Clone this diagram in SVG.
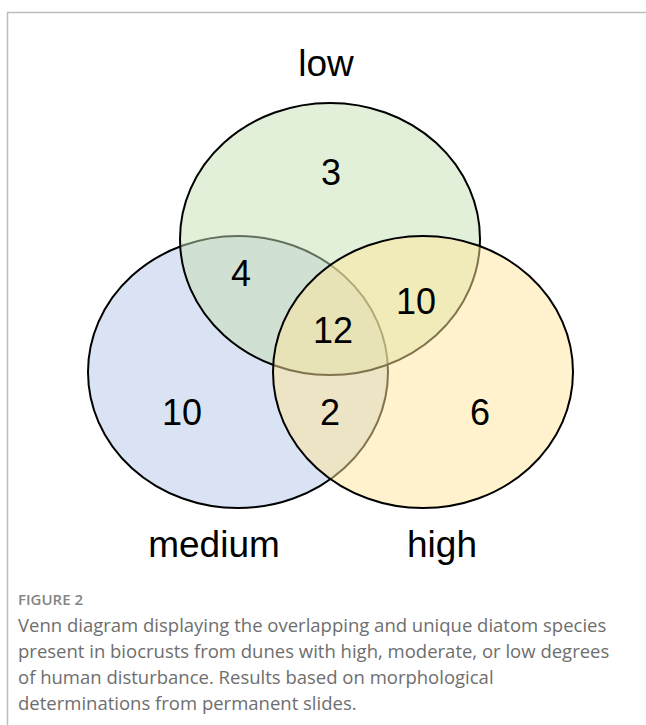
<svg xmlns="http://www.w3.org/2000/svg" width="646" height="725" viewBox="0 0 646 725">
<style>
.set{stroke:#000;stroke-width:2}
.lbl{font-family:"Liberation Sans",Arial,sans-serif;font-size:37px;fill:#000;text-anchor:middle}
.num{font-family:"Liberation Sans",Arial,sans-serif;font-size:36px;fill:#000;text-anchor:middle}
.cap{font-family:"Open Sans","Noto Sans",sans-serif;font-size:18.5px;fill:#6e6e6e}
.fig{font-family:"Open Sans","Noto Sans",sans-serif;font-size:15px;font-weight:600;fill:#858585}
</style>
<rect width="646" height="725" fill="#fff"/>
<path d="M7.5 725 V12.5 H646" fill="none" stroke="#bdbdbd" stroke-width="1.5"/>
<g id="medium">
<ellipse class="set" cx="238" cy="372" rx="150" ry="136" fill="#dae3f3"/>
</g>
<g id="low">
<ellipse class="set" cx="330" cy="239" rx="150" ry="136" fill="#c5dfb3" fill-opacity="0.5"/>
</g>
<g id="high">
<ellipse class="set" cx="423" cy="372" rx="150" ry="136" fill="#ffe599" fill-opacity="0.5"/>
</g>
<g id="labels">
<text class="lbl" x="326" y="76">low</text>
<text class="lbl" x="214" y="557">medium</text>
<text class="lbl" x="442" y="557">high</text>
</g>
<g id="counts">
<text class="num" x="331" y="185">3</text>
<text class="num" x="241" y="286">4</text>
<text class="num" x="416" y="314">10</text>
<text class="num" x="333" y="343">12</text>
<text class="num" x="182" y="425">10</text>
<text class="num" x="330" y="425">2</text>
<text class="num" x="480" y="425">6</text>
</g>
<g id="caption">
<text class="fig" x="18" y="605">FIGURE 2</text>
<text class="cap" x="18" y="632">Venn diagram displaying the overlapping and unique diatom species</text>
<text class="cap" x="18" y="658">present in biocrusts from dunes with high, moderate, or low degrees</text>
<text class="cap" x="18" y="684">of human disturbance. Results based on morphological</text>
<text class="cap" x="18" y="710">determinations from permanent slides.</text>
</g>
</svg>
